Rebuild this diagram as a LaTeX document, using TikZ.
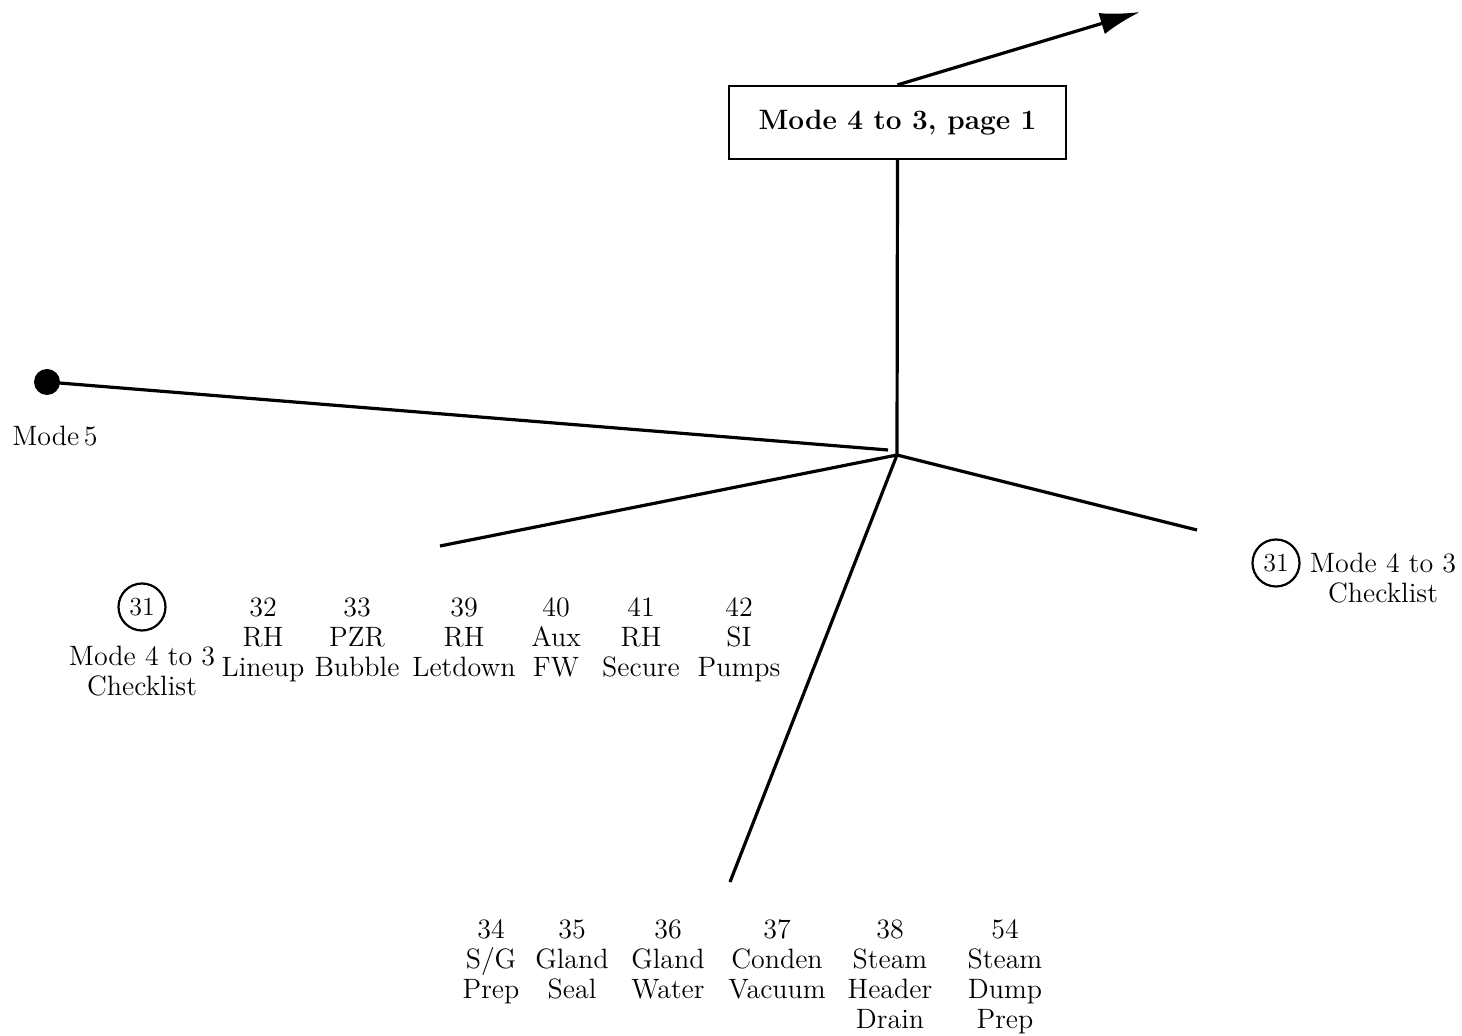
\documentclass[tikz,border=0pt]{standalone}
\usetikzlibrary{arrows.meta}
\begin{document}
\begin{tikzpicture}[x=0.5pt,y=-0.5pt,
  wire/.style={line width=1.6pt},
  lbl/.style={align=center,font=\fontsize{14}{15}\selectfont,inner sep=0pt,anchor=north},
  num/.style={circle,draw,line width=1.1pt,minimum size=23.5pt,inner sep=0pt,font=\fontsize{13}{14}\selectfont}]
  % page frame
  \useasboundingbox (0,0) rectangle (1462,1036);

  % title box and its outgoing arrow
  \node[draw,line width=1.1pt,minimum width=168.5pt,minimum height=36.5pt,
        font=\bfseries\fontsize{14}{17}\selectfont] (title) at (897.5,122.5) {Mode 4 to 3, page 1};
  \coordinate (out) at (1140,12);
  \draw[wire,-{Latex[length=20pt,width=11pt]}] (title.north) -- (out);

  % hub and spokes
  \coordinate (hub) at (897,455);
  \coordinate (m5end) at (888,450);
  \coordinate (leftend) at (440,546);
  \coordinate (rightend) at (1197,530);
  \coordinate (downend) at (730,882);
  \draw[wire] (title.south) -- (hub);
  \draw[wire] (hub) -- (leftend);
  \draw[wire] (hub) -- (rightend);
  \draw[wire] (hub) -- (downend);

  % Mode 5 start point
  \node[circle,fill,inner sep=0pt,minimum size=13pt] (m5) at (47,382) {};
  \draw[wire] (m5.center) -- (m5end);
  \node[lbl] (m5lbl) at (55,426) {Mode\,5};

  % left branch items
  \node[num] (c31a) at (142,607) {31};
  \node[lbl] (l31) at (142,646) {Mode 4 to 3\\Checklist};
  \node[lbl] (l32) at (263,597) {32\\RH\\Lineup};
  \node[lbl] (l33) at (357,597) {33\\PZR\\Bubble};
  \node[lbl] (l39) at (464,597) {39\\RH\\Letdown};
  \node[lbl] (l40) at (556,597) {40\\Aux\\FW};
  \node[lbl] (l41) at (641,597) {41\\RH\\Secure};
  \node[lbl] (l42) at (739,597) {42\\SI\\Pumps};

  % right branch item
  \node[num] (c31b) at (1276,563) {31};
  \node[lbl] (r31) at (1383,553) {Mode 4 to 3\\Checklist};

  % lower branch items
  \node[lbl] (l34) at (491,919) {34\\S/G\\Prep};
  \node[lbl] (l35) at (572,919) {35\\Gland\\Seal};
  \node[lbl] (l36) at (668,919) {36\\Gland\\Water};
  \node[lbl] (l37) at (777,919) {37\\Conden\\Vacuum};
  \node[lbl] (l38) at (890,919) {38\\Steam\\Header\\Drain};
  \node[lbl] (l54) at (1005,919) {54\\Steam\\Dump\\Prep};
\end{tikzpicture}
\end{document}
